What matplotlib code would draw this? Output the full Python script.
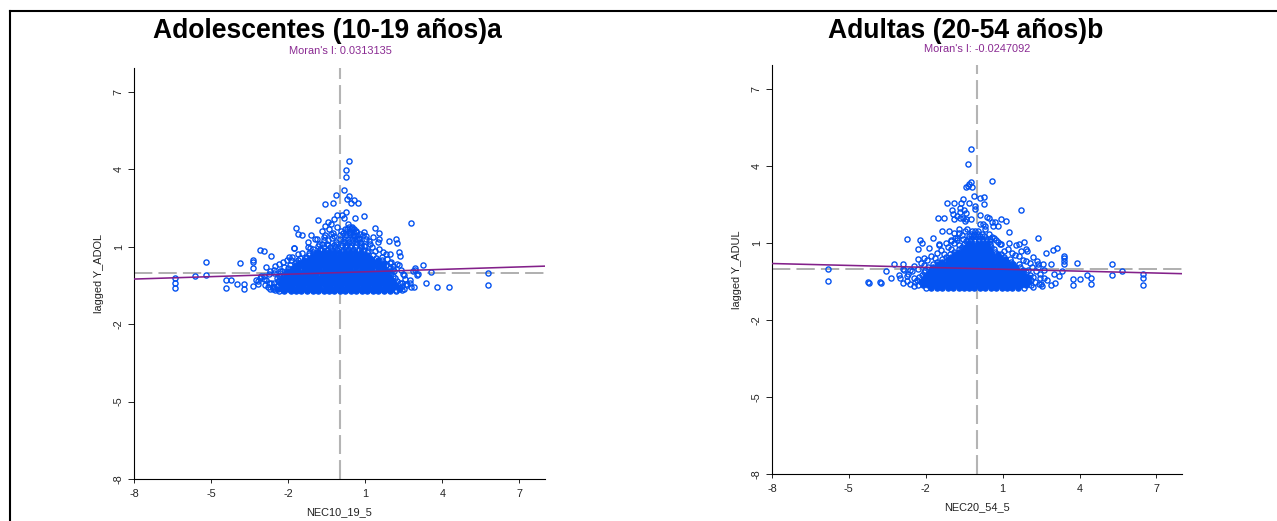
import matplotlib
matplotlib.use("Agg")
import matplotlib.pyplot as plt
from matplotlib.lines import Line2D

plt.rcParams['font.family'] = ['Liberation Sans', 'DejaVu Sans']

W, H = 1277, 521
ticks = [-8, -5, -2, 1, 4, 7]
tick_labels = ['-8', '-5', '-2', '1', '4', '7']

adol_title = 'Adolescentes (10-19 años)a'
adul_title = 'Adultas (20-54 años)b'
adol_moran = 0.0313135
adul_moran = -0.0247092

# Individually readable points, adolescents
adol_x = [.36,.27,.27,.16,-.12,.36,.31,.56,.44,.73,-.26,-.57,-.08,.09,.25,.18,.97,.6,-.22,-.82,2.77,-.43,-.35,-.57,
          -1.68,-1.61,-1.47,-1.10,-.97,-.88,-1.23,-1.23,-1.79,-1.79,-3.09,-2.94,-2.65,-3.87,-3.38,-3.38,-3.38,-2.86,-2.52,
          -2.2,-2.35,-1.97,-1.9,-1.6,-1.55,-1.2,-1.05,-.7,
          1.38,1.55,1.05,1.31,1.55,1.51,1.91,2.19,2.23,2.31,2.36,1.7,1.8,1.96,2.31,2.08,3.25,2.94,2.86,3.06,3.57,3.38,3.78,4.26,
          2.75,2.75,2.6,2.9,2.78,2.48,2.45,2.95,3.0,
          -4.4,-4.4,-4.23,-3.99,-3.7,-3.7,-3.38,-3.18,-3.18,-3.25,-3.09,-2.94,-2.86,-2.75,-2.6,-2.35,-2.35,-2.55,-2.7,-2.9,-3.05,
          -6.39,-6.39,-6.39,-5.2,-5.61,-5.2,5.8,5.8,
          .75,.9,1.05,1.2,.35,.5,.65,.8,.95,1.15,.2,.4,.55,.7,.85,1.0,.05,-.1,-.25,-.4,-.55,-.7,-.3,-.15,0.,.15,-.45,-.6,-.8,
          -2.7,-2.55,-2.3,-2.15,-2.05,-1.85,-1.7,-1.45,-1.3,-1.15,-1.05,-.85,-.75,-.6,-.5,-.35,-.2,-.15,.0,.12,
          .95,1.1,1.25,1.4,1.55,1.65,1.85,2.0,2.1,2.25,2.4,2.5,2.55,2.62,2.35,2.45,2.2,-2.5,-2.65,-2.8,-2.95,-2.75,-2.55]
adol_y = [4.34,3.98,3.70,3.22,3.01,2.97,2.84,2.80,2.69,2.69,2.69,2.65,2.24,2.22,2.33,2.11,2.21,2.13,2.07,2.04,1.91,1.98,1.9,1.82,
          1.72,1.51,1.47,1.47,1.32,1.32,1.20,.98,.97,.94,.87,.83,.66,.39,.49,.41,.18,.23,.26,
          .40,.33,.62,.47,.72,.55,.75,.92,1.12,
          1.72,1.55,1.40,1.37,1.31,1.18,1.24,1.29,1.15,.81,.66,.79,.72,.71,.30,.26,.30,.17,.08,-.06,.01,-.39,-.56,-.56,
          -.28,-.39,-.46,-.56,-.56,-.05,-.39,.12,-.10,
          -.3,-.6,-.27,-.44,-.43,-.63,-.52,-.44,-.34,-.27,-.2,-.24,-.3,-.41,-.54,-.34,-.15,-.56,-.63,-.5,-.12,
          -.21,-.41,-.6,.42,-.15,-.09,.0,-.5,
          1.35,1.45,1.3,1.12,1.9,1.72,1.62,1.5,1.58,1.22,1.7,1.55,1.4,1.32,1.15,1.05,1.62,1.75,1.55,1.7,1.45,1.6,1.35,1.2,1.3,1.22,1.25,1.38,1.12,
          .05,.12,.05,.2,.5,.6,.4,.75,.62,.95,.72,1.05,.9,1.25,1.1,1.5,1.4,1.1,1.45,1.55,
          1.05,.85,1.0,.82,.9,.6,.52,.42,.15,.35,.1,-.1,-.25,-.5,-.6,-.66,-.68,-.66,-.4,-.55,-.15,-.05,-.02]

# Dense body of the adolescents' cloud, read as rows
adol_core_y = [-.72,-.62,-.52,-.42,-.32,-.22,-.12,-.02,.08,.18,.28,.38,.48,.58,.68,.78,.88,.98,1.08,1.2,1.32,1.44,1.56,1.68,1.78]
adol_core_x = [
 [-2.35,-2.15,-1.9,-1.7,-1.48,-1.28,-1.05,-.85,-.62,-.42,-.2,.02,.22,.45,.65,.88,1.08,1.3,1.5,1.72,1.95,2.2],
 [-2.6,-2.4,-2.22,-2.0,-1.78,-1.58,-1.36,-1.15,-.94,-.74,-.52,-.3,-.1,.12,.34,.55,.76,.98,1.2,1.4,1.62,1.85,2.05,2.3,2.5],
 [-2.45,-2.25,-2.05,-1.85,-1.62,-1.42,-1.2,-1.0,-.78,-.58,-.36,-.15,.06,.28,.48,.7,.92,1.12,1.35,1.55,1.78,1.98,2.2,2.42],
 [-2.55,-2.32,-2.12,-1.92,-1.7,-1.5,-1.28,-1.08,-.86,-.66,-.44,-.22,-.02,.2,.4,.62,.84,1.05,1.26,1.48,1.7,1.9,2.12,2.35],
 [-2.4,-2.2,-2.0,-1.78,-1.58,-1.36,-1.16,-.94,-.74,-.52,-.3,-.1,.12,.32,.54,.76,.96,1.18,1.4,1.6,1.82,2.04,2.25],
 [-2.42,-2.22,-2.02,-1.82,-1.62,-1.42,-1.22,-1.02,-.82,-.6,-.4,-.18,.04,.24,.46,.66,.88,1.1,1.3,1.52,1.74,1.96,2.18],
 [-2.3,-2.1,-1.9,-1.7,-1.5,-1.3,-1.1,-.9,-.7,-.48,-.26,-.06,.16,.36,.58,.8,1.0,1.22,1.44,1.66,1.88,2.1],
 [-2.32,-2.1,-1.9,-1.7,-1.5,-1.3,-1.1,-.9,-.7,-.5,-.3,-.1,.1,.3,.5,.72,.92,1.14,1.36,1.58,1.8,2.02],
 [-2.25,-2.0,-1.8,-1.6,-1.4,-1.2,-1.0,-.8,-.6,-.4,-.2,0.,.2,.4,.62,.84,1.04,1.26,1.48,1.7,1.92,2.12],
 [-2.0,-1.8,-1.6,-1.38,-1.18,-.98,-.78,-.58,-.38,-.18,.02,.22,.42,.64,.86,1.08,1.28,1.5,1.72,1.95],
 [-1.92,-1.7,-1.5,-1.3,-1.1,-.9,-.7,-.5,-.3,-.1,.1,.3,.52,.74,.96,1.18,1.38,1.6,1.82],
 [-1.75,-1.55,-1.35,-1.15,-.95,-.75,-.55,-.35,-.15,.05,.25,.47,.68,.9,1.1,1.32,1.52,1.72,1.95],
 [-1.6,-1.4,-1.2,-1.0,-.8,-.6,-.4,-.2,0.,.2,.42,.62,.84,1.06,1.28,1.5,1.66],
 [-1.3,-1.1,-.9,-.7,-.5,-.3,-.1,.1,.32,.54,.76,.98,1.2,1.42],
 [-1.2,-1.0,-.8,-.6,-.4,-.2,0.,.2,.42,.64,.86,1.08,1.3],
 [-1.02,-.82,-.62,-.42,-.22,-.02,.2,.4,.62,.84,1.06],
 [-.7,-.5,-.3,-.1,.12,.32,.52,.74,.95],
 [-.6,-.38,-.18,.04,.22,.42,.62,.84],
 [-.45,-.2,.1,.28,.46,.64,.82],
 [.22,.36,.5,.64,.78],
 [.2,.34,.48,.62,.76],
 [.26,.4,.54,.68],
 [.24,.38,.52,.66],
 [.3,.44,.58],
 [.38,.5],
]

# Individually readable points, adults
adul_x = [-.25,-.34,.6,-.25,-.3,-.21,-.42,-.36,-.13,.13,.29,.29,-.53,-1.18,-.9,-.61,-.3,-.08,-.08,-.66,-.5,-.96,-.92,-.66,-.43,1.7,.12,
          -1.51,-1.27,-.79,-.66,-.53,-.43,-.25,-.9,-.45,.38,.48,.58,.7,.92,1.13,.25,.12,.31,.64,.83,1.26,-1.35,-1.1,-.7,-.4,-.88,-.72,
          -2.73,-2.21,-2.16,-2.29,-1.88,-1.71,-1.5,-1.47,-1.21,-1.03,-.86,2.39,1.25,1.82,1.65,1.51,1.97,2.96,3.13,2.68,3.4,3.4,3.4,3.4,3.9,2.88,2.57,2.39,2.39,
          -2.32,-2.05,-3.22,-2.9,-3.55,-2.9,-2.83,-3.06,-3.02,-3.34,-3.74,-4.23,-2.87,-2.74,-2.74,-2.44,-2.6,
          3.73,3.73,4.02,4.28,4.44,4.44,5.25,5.25,5.64,6.46,6.46,6.46,-5.81,-5.81,-4.25,-3.78,
          3.0,3.2,2.75,2.5,2.9,3.05,2.6,3.3,2.2,2.35,2.45,1.9,1.7,.45,.6,.75,.3,.9,-.6,-.8,-1.0,
          -2.45,-2.3,-2.55,-2.7,-2.2,-2.05,-1.95,-1.8,-1.65,-1.55,-1.4,-1.3,-1.15,-1.0,-.9,-.8,-.7,-.55,-.45,
          .5,.65,.8,.95,1.05,1.2,1.35,1.5,1.65,1.78,1.9,2.05,2.15,2.3,2.45,2.6,2.4,2.55,2.2,-2.45,-2.6]
adul_y = [4.65,4.09,3.40,3.38,3.29,3.19,3.16,3.22,2.83,2.74,2.79,2.53,2.71,2.55,2.55,2.55,2.55,2.44,2.34,2.37,2.3,2.30,2.14,2.2,2.18,2.30,2.09,
          1.97,1.97,2.03,1.99,1.99,1.95,1.95,1.95,1.86,2.01,1.99,1.82,1.82,1.94,1.86,1.75,1.72,1.66,1.66,1.64,1.44,1.48,1.48,1.56,1.53,1.38,1.4,
          1.17,1.13,.99,.75,.81,1.19,.92,.95,1.01,1.08,1.21,1.21,1.01,1.04,.94,.90,.7,.71,.81,.60,.49,.40,.30,.17,.23,.19,.17,.17,.08,
          .36,.40,.18,.16,-.09,-.03,-.05,-.25,-.35,-.35,-.55,-.58,-.55,-.29,-.48,-.38,-.06,
          -.39,-.63,-.39,-.26,-.35,-.6,.19,-.26,-.09,-.22,-.35,-.63,-.03,-.5,-.53,-.53,
          -.2,-.3,-.45,-.6,-.62,-.55,-.05,-.1,.45,.3,-.35,.78,.68,1.35,1.25,1.12,1.55,.95,1.3,1.2,1.1,
          .1,.0,-.1,-.2,.22,.15,.35,.5,.42,.62,.72,.55,.85,.78,1.0,1.1,.9,1.15,1.45,
          1.15,1.2,1.05,.95,.7,.78,.6,.52,.48,.35,.3,.2,.05,-.1,-.2,-.35,-.6,-.66,-.7,-.68,-.6]

# Dense body of the adults' cloud, read as rows
adul_core_y = [-.74,-.64,-.54,-.44,-.34,-.24,-.14,-.04,.06,.16,.26,.36,.46,.56,.66,.76,.86,.96,1.06,1.16,1.26,1.36,1.46]
adul_core_x = [
 [-2.0,-1.8,-1.58,-1.38,-1.15,-.95,-.72,-.52,-.3,-.1,.12,.32,.54,.75,.96,1.18,1.38,1.6,1.82],
 [-2.3,-2.1,-1.9,-1.68,-1.48,-1.26,-1.06,-.84,-.62,-.42,-.2,.02,.22,.44,.64,.86,1.08,1.28,1.5,1.72,1.92,2.12],
 [-2.42,-2.2,-2.0,-1.8,-1.58,-1.38,-1.16,-.96,-.74,-.54,-.32,-.1,.1,.32,.52,.74,.96,1.16,1.38,1.6,1.8,2.02,2.25],
 [-2.35,-2.12,-1.92,-1.72,-1.5,-1.3,-1.08,-.88,-.66,-.46,-.24,-.02,.18,.4,.6,.82,1.04,1.24,1.46,1.68,1.88,2.1],
 [-2.25,-2.03,-1.83,-1.62,-1.42,-1.2,-1.0,-.78,-.58,-.36,-.14,.06,.28,.48,.7,.92,1.12,1.34,1.56,1.76,1.98,2.2],
 [-2.15,-1.95,-1.75,-1.54,-1.34,-1.12,-.92,-.7,-.5,-.28,-.06,.14,.36,.56,.78,1.0,1.2,1.42,1.64,1.84,2.06],
 [-2.05,-1.85,-1.65,-1.45,-1.24,-1.04,-.82,-.62,-.4,-.2,.02,.24,.44,.66,.86,1.08,1.3,1.5,1.72,1.92],
 [-2.02,-1.8,-1.6,-1.4,-1.18,-.98,-.76,-.56,-.34,-.12,.08,.3,.5,.72,.94,1.14,1.36,1.58,1.78,1.98],
 [-1.9,-1.7,-1.5,-1.28,-1.08,-.86,-.66,-.44,-.24,-.02,.2,.4,.62,.84,1.04,1.26,1.48,1.68],
 [-1.72,-1.52,-1.32,-1.12,-.92,-.7,-.5,-.28,-.06,.14,.36,.56,.78,1.0,1.2,1.42,1.62],
 [-1.55,-1.35,-1.15,-.95,-.75,-.55,-.33,-.12,.1,.3,.52,.74,.94,1.16,1.34],
 [-1.35,-1.15,-.95,-.75,-.55,-.35,-.15,.06,.26,.48,.68,.9,1.1,1.28],
 [-1.2,-1.0,-.8,-.6,-.4,-.2,0.,.22,.42,.64,.86,1.04],
 [-1.05,-.85,-.65,-.45,-.25,-.04,.18,.38,.6,.8,.95],
 [-.9,-.7,-.5,-.3,-.1,.1,.32,.52,.72],
 [-.72,-.52,-.32,-.12,.08,.28,.48,.66],
 [-.6,-.42,-.22,-.02,.18,.38,.56],
 [-.52,-.35,-.18,.02,.2,.38,.52],
 [-.42,-.26,-.1,.06,.22,.38,.5],
 [-.36,-.22,-.08,.06,.2,.34],
 [-.3,-.16,-.02,.12,.26],
 [-.24,-.1,.04,.18],
 [-.2,-.08,.04],
]

BLUE = '#0452f0'


def split_core(rows, levels, solid_below):
    """Row ends and upper rows stay open rings; the overlapping interior reads as solid."""
    edge_x, edge_y, body_x, body_y = [], [], [], []
    for level, row in zip(levels, rows):
        if level < solid_below:
            edge_x += [row[0], row[-1]]
            edge_y += [level, level]
            body_x += row[1:-1]
            body_y += [level] * (len(row) - 2)
        else:
            edge_x += row
            edge_y += [level] * len(row)
    return edge_x, edge_y, body_x, body_y


def panel(fig, box, xs, ys, rows, levels, solid_below, moran, xlabel, ylabel):
    left, top, right, bottom = box
    ax = fig.add_axes([left / W, 1 - bottom / H, (right - left) / W, (bottom - top) / H])
    ax.set_xlim(-8, 8)
    ax.set_ylim(-8, 7.93)
    ax.axvline(0, color='#b4b4b4', lw=1.5, dashes=(9.1, 2.9), zorder=1)
    ax.axhline(0, color='#9a9a9a', lw=1.1, dashes=(12, 4), zorder=1)
    edge_x, edge_y, body_x, body_y = split_core(rows, levels, solid_below)
    ring = dict(ls='none', marker='o', ms=3.7, mec=BLUE, mew=1.0, clip_on=False)
    ax.plot(list(xs) + edge_x, list(ys) + edge_y, mfc='none', zorder=2, **ring)
    ax.plot(body_x, body_y, mfc=BLUE, zorder=2.1, **ring)
    ax.plot([-8, 8], [-8 * moran, 8 * moran], color='#83208a', lw=1.15, zorder=3)
    for s in ('top', 'right'):
        ax.spines[s].set_visible(False)
    for s in ('left', 'bottom'):
        ax.spines[s].set_linewidth(0.8)
    ax.set_xticks(ticks, tick_labels)
    ax.set_yticks(ticks, tick_labels)
    ax.tick_params(axis='x', length=3, width=0.7, labelsize=7.8, colors='#222222', pad=4.5)
    ax.tick_params(axis='y', length=4.3, width=0.7, labelsize=7.8, colors='#222222', pad=3)
    for t in ax.get_yticklabels():
        t.set_rotation(90)
        t.set_va('center')
    ax.set_xlabel(xlabel, fontsize=7.9, color='#222222', labelpad=5.5)
    ax.set_ylabel(ylabel, fontsize=7.9, color='#222222', labelpad=7)
    return ax


fig = plt.figure(figsize=(W / 100, H / 100), dpi=100, facecolor='white')

panel(fig, (134, 68, 545, 479), adol_x, adol_y, adol_core_x, adol_core_y, 0.85, adol_moran,
      'NEC10_19_5', 'lagged Y_ADOL')
panel(fig, (772, 65, 1182, 474), adul_x, adul_y, adul_core_x, adul_core_y, 1.0, adul_moran,
      'NEC20_54_5', 'lagged Y_ADUL')

fig.text(327.5 / W, 1 - 37.5 / H, adol_title, ha='center', va='baseline', fontsize=19.1, fontweight='bold', color='black')
fig.text(965.5 / W, 1 - 37.5 / H, adul_title, ha='center', va='baseline', fontsize=19.1, fontweight='bold', color='black')
fig.text(340 / W, 1 - 54.5 / H, f"Moran's I: {adol_moran:.7f}", ha='center', va='baseline', fontsize=7.9, color='#8a2a92')
fig.text(977.5 / W, 1 - 51.5 / H, f"Moran's I: {adul_moran:.7f}", ha='center', va='baseline', fontsize=7.9, color='#8a2a92')

fig.add_artist(Line2D([10 / W, 1], [1 - 11 / H, 1 - 11 / H], color='black', lw=1.5, transform=fig.transFigure))
fig.add_artist(Line2D([10 / W, 10 / W], [0, 1 - 11 / H], color='black', lw=1.5, transform=fig.transFigure))

fig.savefig('out.png', dpi=100)
